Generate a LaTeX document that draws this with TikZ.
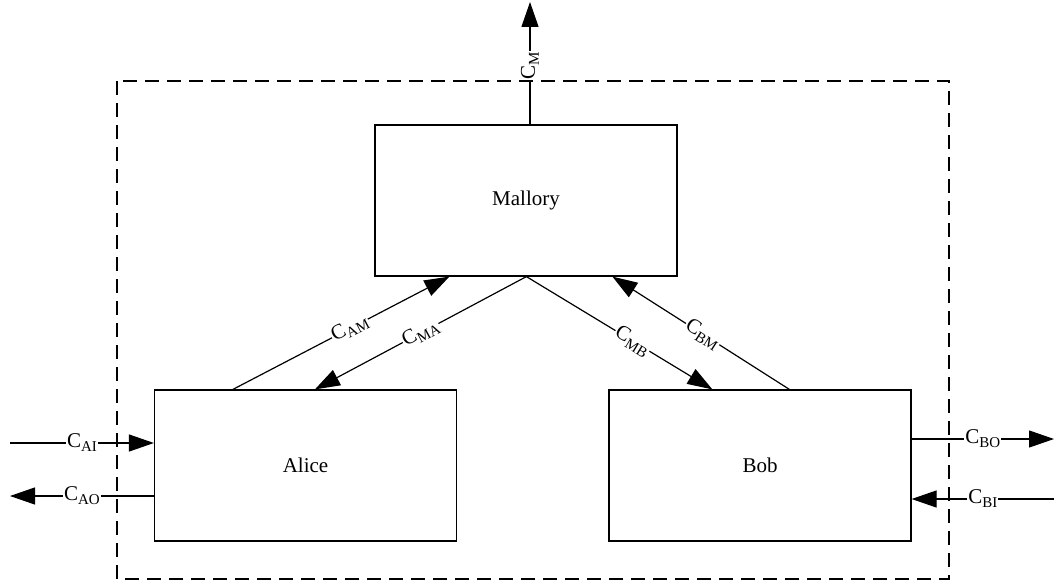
\documentclass[tikz,border=0pt]{standalone}
\usepackage{fontspec}
\setmainfont{Liberation Serif}
\usetikzlibrary{arrows.meta,calc}
\newcommand\clbl[1]{C\raisebox{-4pt}{\fontsize{15}{15}\selectfont #1}}
\begin{document}
\begin{tikzpicture}[x=1pt,y=-1pt,
  blk/.style={draw,line width=1.2pt,minimum width=302pt,minimum height=151pt,inner sep=0pt,font=\fontsize{21}{25}\selectfont},
  conn/.style={line width=1.2pt,-{Triangle[length=25pt,width=17pt]}},
  lab/.style={fill=white,inner sep=1pt,font=\fontsize{21}{25}\selectfont},
  frame/.style={draw,line width=1.2pt,dash pattern=on 14pt off 8pt}]
\useasboundingbox (0,0) rectangle (1054,583);
\draw[frame] (117,81) rectangle (949,579);
\node[blk] (mal) at (526,200.5) {Mallory};
\node[blk] (ali) at (305.5,465.5) {Alice};
\node[blk] (bob) at (760,465.5) {Bob};
\coordinate (top) at (530,2);
\coordinate (ain) at (10,443);
\coordinate (aout) at (10,496);
\coordinate (bout) at (1054,439);
\coordinate (bin) at (1054,499);
% top output
\draw[conn] (mal.north -| top) -- node[lab,rotate=90,pos=0.48]{\clbl{M}} (top);
% Alice <-> Mallory
\draw[conn] ([xshift=79pt]ali.north west) -- node[lab,sloped,pos=0.54]{\clbl{AM}} ([xshift=75pt]mal.south west);
\draw[conn] ([xshift=152pt]mal.south west) -- node[lab,sloped,pos=0.5]{\clbl{MA}} ([xshift=161pt]ali.north west);
% Bob <-> Mallory
\draw[conn] ([xshift=152pt]mal.south west) -- node[lab,sloped,pos=0.57]{\clbl{MB}} ([xshift=104pt]bob.north west);
\draw[conn] ([xshift=181pt]bob.north west) -- node[lab,sloped,pos=0.49]{\clbl{BM}} ([xshift=238pt]mal.south west);
% external
\draw[conn] (ain) -- node[lab,pos=0.5]{\clbl{AI}} (ain -| ali.west);
\draw[conn] (aout -| ali.west) -- node[lab,pos=0.5]{\clbl{AO}} (aout);
\draw[conn] (bout -| bob.east) -- node[lab,pos=0.5]{\clbl{BO}} (bout);
\draw[conn] (bin) -- node[lab,pos=0.5]{\clbl{BI}} (bin -| bob.east);
\end{tikzpicture}
\end{document}
